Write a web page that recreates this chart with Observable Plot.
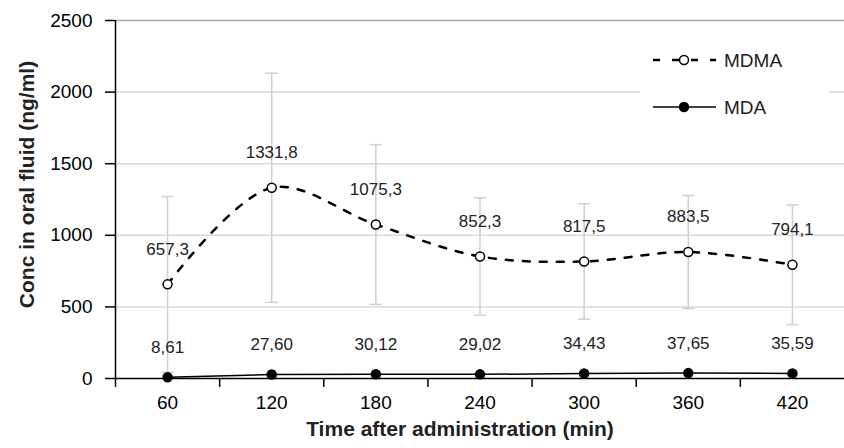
<!DOCTYPE html>
<html>
<head>
<meta charset="utf-8">
<script src="https://cdn.jsdelivr.net/npm/d3@7"></script>
<script src="https://cdn.jsdelivr.net/npm/@observablehq/plot@0.6"></script>
<style>
  html, body { margin: 0; padding: 0; background: white; }
  #wrap { position: relative; width: 844px; height: 448px; font-family: "Liberation Sans", Arial, sans-serif; }
  #legend { position: absolute; left: 640px; top: 35px; width: 189px; height: 95px; background: white; }
</style>
</head>
<body>
<div id="wrap"></div>
<script>
// ---- data ----
const times = [60, 120, 180, 240, 300, 360, 420];
const mdma = [657.3, 1331.8, 1075.3, 852.3, 817.5, 883.5, 794.1];
const mdmaSD = [613, 800, 558, 410, 403, 395, 418];
const mda = [8.61, 27.60, 30.12, 29.02, 34.43, 37.65, 35.59];
const mdmaLabels = ["657,3", "1331,8", "1075,3", "852,3", "817,5", "883,5", "794,1"];
const mdaLabels = ["8,61", "27,60", "30,12", "29,02", "34,43", "37,65", "35,59"];
const yTicks = [0, 500, 1000, 1500, 2000, 2500];
const xBoundaries = [30, 90, 150, 210, 270, 330, 390];
const seriesNames = ["MDMA", "MDA"];
const xTitle = "Time after administration (min)";
const yTitle = "Conc in oral fluid (ng/ml)";

const rows = times.map((t, i) => ({
  t, mdma: mdma[i], sd: mdmaSD[i], mda: mda[i],
  mdmaLabel: mdmaLabels[i], mdaLabel: mdaLabels[i]
}));
const caps = rows.flatMap(d => [{t: d.t, v: d.mdma - d.sd}, {t: d.t, v: d.mdma + d.sd}]);

const capSymbol = {
  draw(ctx, size) {
    const r = Math.sqrt(size / Math.PI);
    ctx.moveTo(-r, 0); ctx.lineTo(r, 0);
  }
};

const chart = Plot.plot({
  width: 844, height: 448,
  marginLeft: 115, marginRight: 0, marginTop: 20, marginBottom: 70,
  x: {type: "linear", domain: [30, 450]},
  y: {domain: [0, 2500]},
  style: {fontFamily: "'Liberation Sans', Arial, sans-serif", background: "white", color: "black"},
  marks: [
    Plot.gridY([500, 1000, 1500, 2000], {stroke: "#d9d9d9", strokeOpacity: 1, strokeWidth: 1.5}),
    Plot.ruleY([2500], {stroke: "#a6a6a6", strokeWidth: 1.5}),
    Plot.ruleX(rows, {x: "t", y1: d => d.mdma - d.sd, y2: d => d.mdma + d.sd, stroke: "#cfcfcf", strokeWidth: 1.5}),
    Plot.dot(caps, {x: "t", y: "v", symbol: capSymbol, r: 6, stroke: "#cfcfcf", strokeWidth: 1.5, fill: "none"}),
    Plot.line(rows, {x: "t", y: "mda", stroke: "black", strokeWidth: 1.5}),
    Plot.line(rows, {x: "t", y: "mdma", curve: "catmull-rom", stroke: "black", strokeWidth: 2.5, strokeDasharray: "7,10"}),
    Plot.dot(rows, {x: "t", y: "mdma", r: 4.5, fill: "white", stroke: "black", strokeWidth: 1.5}),
    Plot.dot(rows, {x: "t", y: "mda", r: 4.5, fill: "black", stroke: "black"}),
    Plot.text(rows, {x: "t", y: "mdma", text: "mdmaLabel", dy: -35, fontSize: 17, fill: "#222"}),
    Plot.text(rows, {x: "t", y: "mda", text: "mdaLabel", dy: -30, fontSize: 17, fill: "#222"}),
    Plot.axisY({ticks: yTicks, tickSize: 10, tickPadding: 13, fontSize: 19, label: null, strokeWidth: 1.5, tickFormat: d => String(d)}),
    Plot.ruleX([30], {y1: 0, y2: 2500, stroke: "black", strokeWidth: 1.5}),
    Plot.ruleY([0], {stroke: "black", strokeWidth: 1.5}),
    Plot.axisX({ticks: xBoundaries, tickSize: 9, tickFormat: () => "", label: null, strokeWidth: 1.5}),
    Plot.axisX({ticks: times, tickSize: 0, tickPadding: 17, fontSize: 19, label: null, tickFormat: d => String(d)}),
    Plot.text([xTitle], {frameAnchor: "bottom", dx: -20, dy: 57, fontSize: 21, fontWeight: "bold", fill: "#222"}),
    Plot.text([yTitle], {frameAnchor: "left", textAnchor: "middle", rotate: -90, dx: -88, dy: -15, fontSize: 21, fontWeight: "bold", fill: "#222"})
  ]
});

const wrap = document.getElementById("wrap");
wrap.appendChild(chart);

// legend overlay
const legend = document.createElement("div");
legend.id = "legend";
const lsvg = d3.select(legend).append("svg").attr("width", 189).attr("height", 95);
const styles = [
  {dash: "7,12", width: 2.5, fill: "white", y: 25},
  {dash: null, width: 1.5, fill: "black", y: 72}
];
seriesNames.forEach((name, i) => {
  const s = styles[i];
  const g = lsvg.append("g");
  g.append("line").attr("x1", 13).attr("x2", 76).attr("y1", s.y).attr("y2", s.y)
    .attr("stroke", "black").attr("stroke-width", s.width).attr("stroke-dasharray", s.dash);
  g.append("circle").attr("cx", 44).attr("cy", s.y).attr("r", 4.5)
    .attr("fill", s.fill).attr("stroke", "black").attr("stroke-width", 1.5);
  g.append("text").attr("x", 84).attr("y", s.y + 6.5).attr("font-size", 19)
    .attr("font-family", "'Liberation Sans', Arial, sans-serif").attr("fill", "#222").text(name);
});
wrap.appendChild(legend);
</script>
</body>
</html>
